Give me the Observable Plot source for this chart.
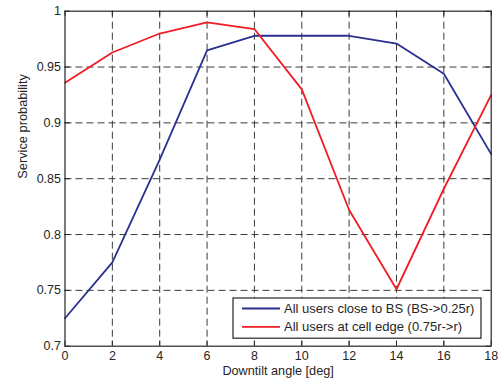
<!DOCTYPE html>
<html><head><meta charset="utf-8">
<script src="https://cdn.jsdelivr.net/npm/d3@7"></script>
<script src="https://cdn.jsdelivr.net/npm/@observablehq/plot@0.6"></script>
<style>body{margin:0;background:#fff} #chart{position:relative;width:504px;height:383px}</style>
</head><body><div id="chart"></div>
<script>
const angles = [0, 2, 4, 6, 8, 10, 12, 14, 16, 18];
const closeToBS = [0.725, 0.775, 0.867, 0.965, 0.978, 0.978, 0.978, 0.971, 0.944, 0.872];
const cellEdge = [0.936, 0.963, 0.980, 0.990, 0.984, 0.930, 0.822, 0.751, 0.841, 0.925];
const seriesNames = ["All users close to BS (BS->0.25r)", "All users at cell edge (0.75r->r)"];
const seriesColors = ["#2b2f8e", "#ee1d23"];
const xTicks = [0, 2, 4, 6, 8, 10, 12, 14, 16, 18];
const yTicks = [0.7, 0.75, 0.8, 0.85, 0.9, 0.95, 1];
const xLabel = "Downtilt angle [deg]";
const yLabel = "Service probability";

const rows = [
  ...angles.map((a, i) => ({angle: a, value: closeToBS[i], series: seriesNames[0]})),
  ...angles.map((a, i) => ({angle: a, value: cellEdge[i], series: seriesNames[1]}))
];

const W = 504, H = 383, mL = 64.5, mR = 13.3, mT = 10.7, mB = 37.3;
const innerW = W - mL - mR, innerH = H - mT - mB;
const tk = 5;
const ink = "#262626";
const gridStyle = {stroke: "#3a3a3a", strokeOpacity: 1, strokeWidth: 1, strokeDasharray: "7,4"};

const chart = Plot.plot({
  width: W, height: H,
  marginLeft: mL, marginRight: mR, marginTop: mT, marginBottom: mB,
  style: {fontFamily: "'Liberation Sans', Arial, sans-serif", fontSize: "12.5px", color: ink, background: "#fff"},
  x: {domain: [0, 18]},
  y: {domain: [0.7, 1]},
  color: {domain: seriesNames, range: seriesColors},
  marks: [
    Plot.gridX(xTicks.slice(1, -1), gridStyle),
    Plot.gridY(yTicks.slice(1, -1), gridStyle),
    Plot.tickX(xTicks, {x: d => d, insetTop: innerH - tk, stroke: ink}),
    Plot.tickX(xTicks, {x: d => d, insetBottom: innerH - tk, stroke: ink}),
    Plot.tickY(yTicks, {y: d => d, insetRight: innerW - tk, stroke: ink}),
    Plot.tickY(yTicks, {y: d => d, insetLeft: innerW - tk, stroke: ink}),
    Plot.line(rows, {x: "angle", y: "value", stroke: "series", z: "series", strokeWidth: 1.8}),
    Plot.frame({stroke: ink, strokeWidth: 1.2}),
    Plot.axisX(xTicks, {tickSize: 0, tickPadding: 5, label: null, fontSize: 12.5}),
    Plot.axisY(yTicks, {tickSize: 0, tickPadding: 4, label: null, fontSize: 12.5, tickFormat: d => String(d)}),
    Plot.text([xLabel], {text: d => d, frameAnchor: "bottom", dy: 28.5, fontSize: 12.7, fill: ink}),
    Plot.text([yLabel], {text: d => d, frameAnchor: "left", dx: -42, rotate: -90, fontSize: 12.8, fill: ink})
  ]
});
document.getElementById("chart").appendChild(chart);

// legend inside plot, bottom-right
const svg = d3.select(chart);
const boxX1 = 233, boxX2 = W - mR - 9.7, boxY1 = H - mB - 47.7, boxY2 = H - mB - 7.5;
const lg = svg.append("g").attr("text-anchor", "start");
lg.append("rect").attr("x", boxX1).attr("y", boxY1).attr("width", boxX2 - boxX1).attr("height", boxY2 - boxY1)
  .attr("fill", "#fff").attr("stroke", ink).attr("stroke-width", 1.2);
const rowY = [boxY1 + 10.5, boxY1 + 28.8];
seriesNames.forEach((name, i) => {
  lg.append("line").attr("x1", boxX1 + 9).attr("x2", boxX1 + 47).attr("y1", rowY[i]).attr("y2", rowY[i])
    .attr("stroke", seriesColors[i]).attr("stroke-width", 1.8);
  lg.append("text").attr("x", boxX1 + 51).attr("y", rowY[i]).attr("dy", "0.35em")
    .attr("text-anchor", "start").attr("font-size", 13).attr("fill", ink).text(name);
});
</script>
</body></html>
